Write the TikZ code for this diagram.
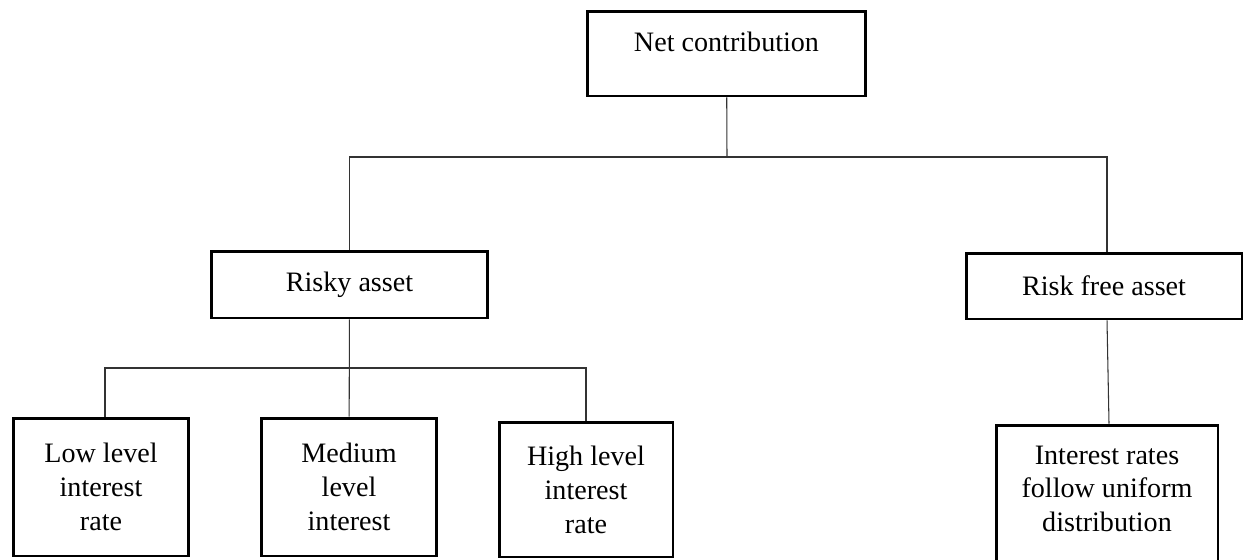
\documentclass[tikz,border=0pt]{standalone}
\usepackage{fontspec}
\setmainfont{Liberation Serif}
\usepackage{tikz}

\tikzset{
    box/.style={draw=black,line width=1.7pt,align=center,inner sep=2pt,
        font=\fontsize{16}{19.3}\selectfont},
    link/.style={draw=black!80,line width=0.6pt},
}

\begin{document}
\begin{tikzpicture}[x=0.02cm,y=-0.02cm]
    \clip (0,0) rectangle (1243,559);

    % Root and the two asset classes.
    \node[box,minimum width=5.58cm,minimum height=1.70cm] (net) at (726.5,53.5)
        {Net contribution\\[-12pt]\strut};
    \node[box,minimum width=5.54cm,minimum height=1.34cm] (risky) at (349.5,284.5)
        {Risky asset};
    \node[box,minimum width=5.52cm,minimum height=1.32cm] (free) at (1104,286)
        {Risk free asset};

    % Leaves; the last one runs off the bottom edge.
    \node[box,minimum width=3.52cm,minimum height=2.76cm] (low) at (101,487)
        {Low level\\interest\\rate};
    \node[box,minimum width=3.52cm,minimum height=2.76cm] (medium) at (349,487)
        {Medium\\level\\interest};
    \node[box,minimum width=3.48cm,minimum height=2.70cm] (high) at (586,489.5)
        {High level\\interest\\rate};
    \node[box,minimum width=4.44cm,minimum height=2.80cm] (interest) at (1107,495)
        {Interest rates\\follow uniform\\distribution\\[-18pt]\strut};

    % Connectors.
    \coordinate (topbar) at (727,157);
    \coordinate (midbar) at (349,368);
    \draw[link] (net) -- (topbar);
    \draw[link] (risky.north) |- (topbar) -| ([xshift=0.06cm]free.north);
    \draw[link] (risky) -- (medium);
    \draw[link] ([xshift=0.08cm]low.north) |- (midbar) -| (high.north);
    \draw[link] ([xshift=0.06cm]free.south) -- ([xshift=0.04cm]interest.north);
\end{tikzpicture}
\end{document}
